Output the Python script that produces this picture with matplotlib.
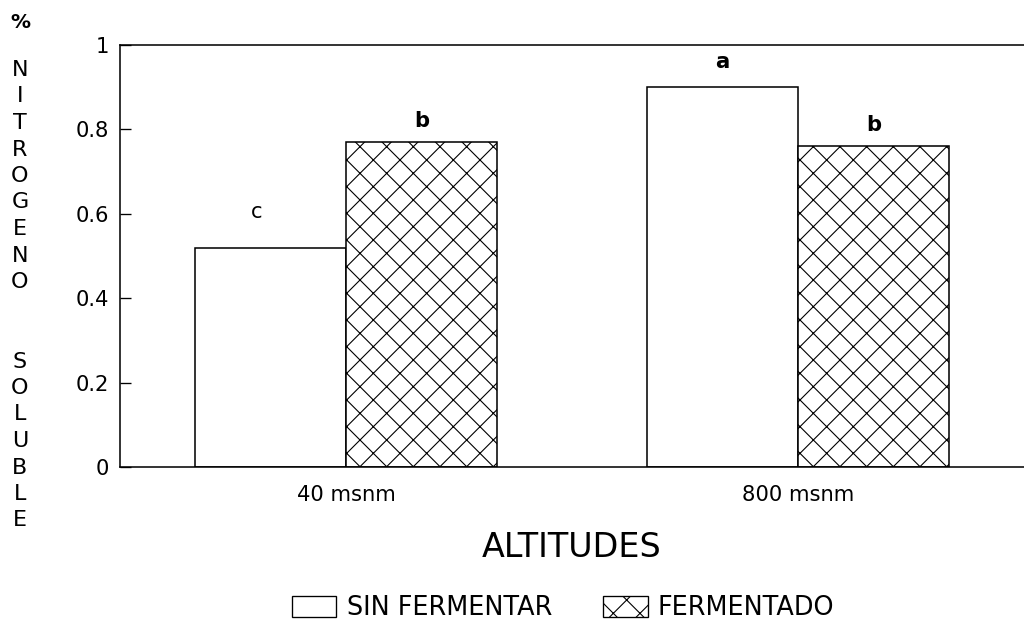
import numpy as np
import matplotlib
matplotlib.use('Agg')
from matplotlib import pyplot as plt
from matplotlib.patches import Patch

# datos
altitudes = ['40 msnm', '800 msnm']
sin_fermentar = [0.52, 0.90]
fermentado = [0.77, 0.76]
letras_sin = ['c', 'a']
letras_fer = ['b', 'b']
yticks = [0, 0.2, 0.4, 0.6, 0.8, 1]
ylabel_letras = ['N', 'I', 'T', 'R', 'O', 'G', 'E', 'N', 'O', '', '', 'S', 'O', 'L', 'U', 'B', 'L', 'E']

plt.rcParams['font.family'] = 'DejaVu Sans'
plt.rcParams['hatch.linewidth'] = 0.5

DPI = 160
fig = plt.figure(figsize=(1024 / DPI, 631 / DPI), dpi=DPI)
ax = fig.add_axes([120 / 1024, 1 - 467 / 631, 1 - 120 / 1024, (467 - 45) / 631])

x = np.arange(len(altitudes))
w = 0.335
ax.bar(x - w / 2, sin_fermentar, w, color='white', edgecolor='black', linewidth=0.7)
ax.bar(x + w / 2, fermentado, w, color='white', edgecolor='black', linewidth=0.7, hatch='xx')

for i in range(len(altitudes)):
	ax.text(x[i] - w / 2 - 0.03 * (i == 0), sin_fermentar[i] + 0.06 + 0.025 * (i == 0), letras_sin[i],
			ha='center', va='center', fontsize=9.5, fontweight='normal' if i == 0 else 'bold')
	ax.text(x[i] + w / 2, fermentado[i] + 0.05, letras_fer[i], ha='center', va='center',
			fontsize=9.5, fontweight='bold')

ax.set_xlim(-0.5, 1.5)
ax.set_ylim(0, 1)
ax.set_yticks(yticks)
ax.set_yticklabels(['0', '0.2', '0.4', '0.6', '0.8', '1'], fontsize=9.5)
ax.set_xticks(x)
ax.set_xticklabels(altitudes, fontsize=9.5)
ax.tick_params(axis='y', direction='in', length=5, width=0.6, pad=5)
ax.tick_params(axis='x', length=0, pad=8)
ax.spines['right'].set_visible(False)
for s in ['left', 'top', 'bottom']:
	ax.spines[s].set_linewidth(0.7)

ax.set_xlabel('ALTITUDES', fontsize=15, labelpad=12)

# etiqueta vertical letra por letra
fig.text(20 / 1024, 1 - 22 / 631, '%', ha='center', va='center', fontsize=9, fontweight='bold')
for k, c in enumerate(ylabel_letras):
	if c:
		fig.text(20 / 1024, 1 - (70 + k * 26.5) / 631, c, ha='center', va='center', fontsize=10)

handles = [Patch(facecolor='white', edgecolor='black', linewidth=0.6, label='SIN FERMENTAR'),
		   Patch(facecolor='white', edgecolor='black', linewidth=0.6, hatch='xx', label='FERMENTADO')]
fig.legend(handles=handles, loc='center', bbox_to_anchor=(563 / 1024, 1 - 608 / 631), ncol=2,
		   frameon=False, fontsize=11.5, handlelength=1.75, handleheight=0.9,
		   handletextpad=0.4, columnspacing=2.0)

fig.savefig('out.png', dpi=DPI)
